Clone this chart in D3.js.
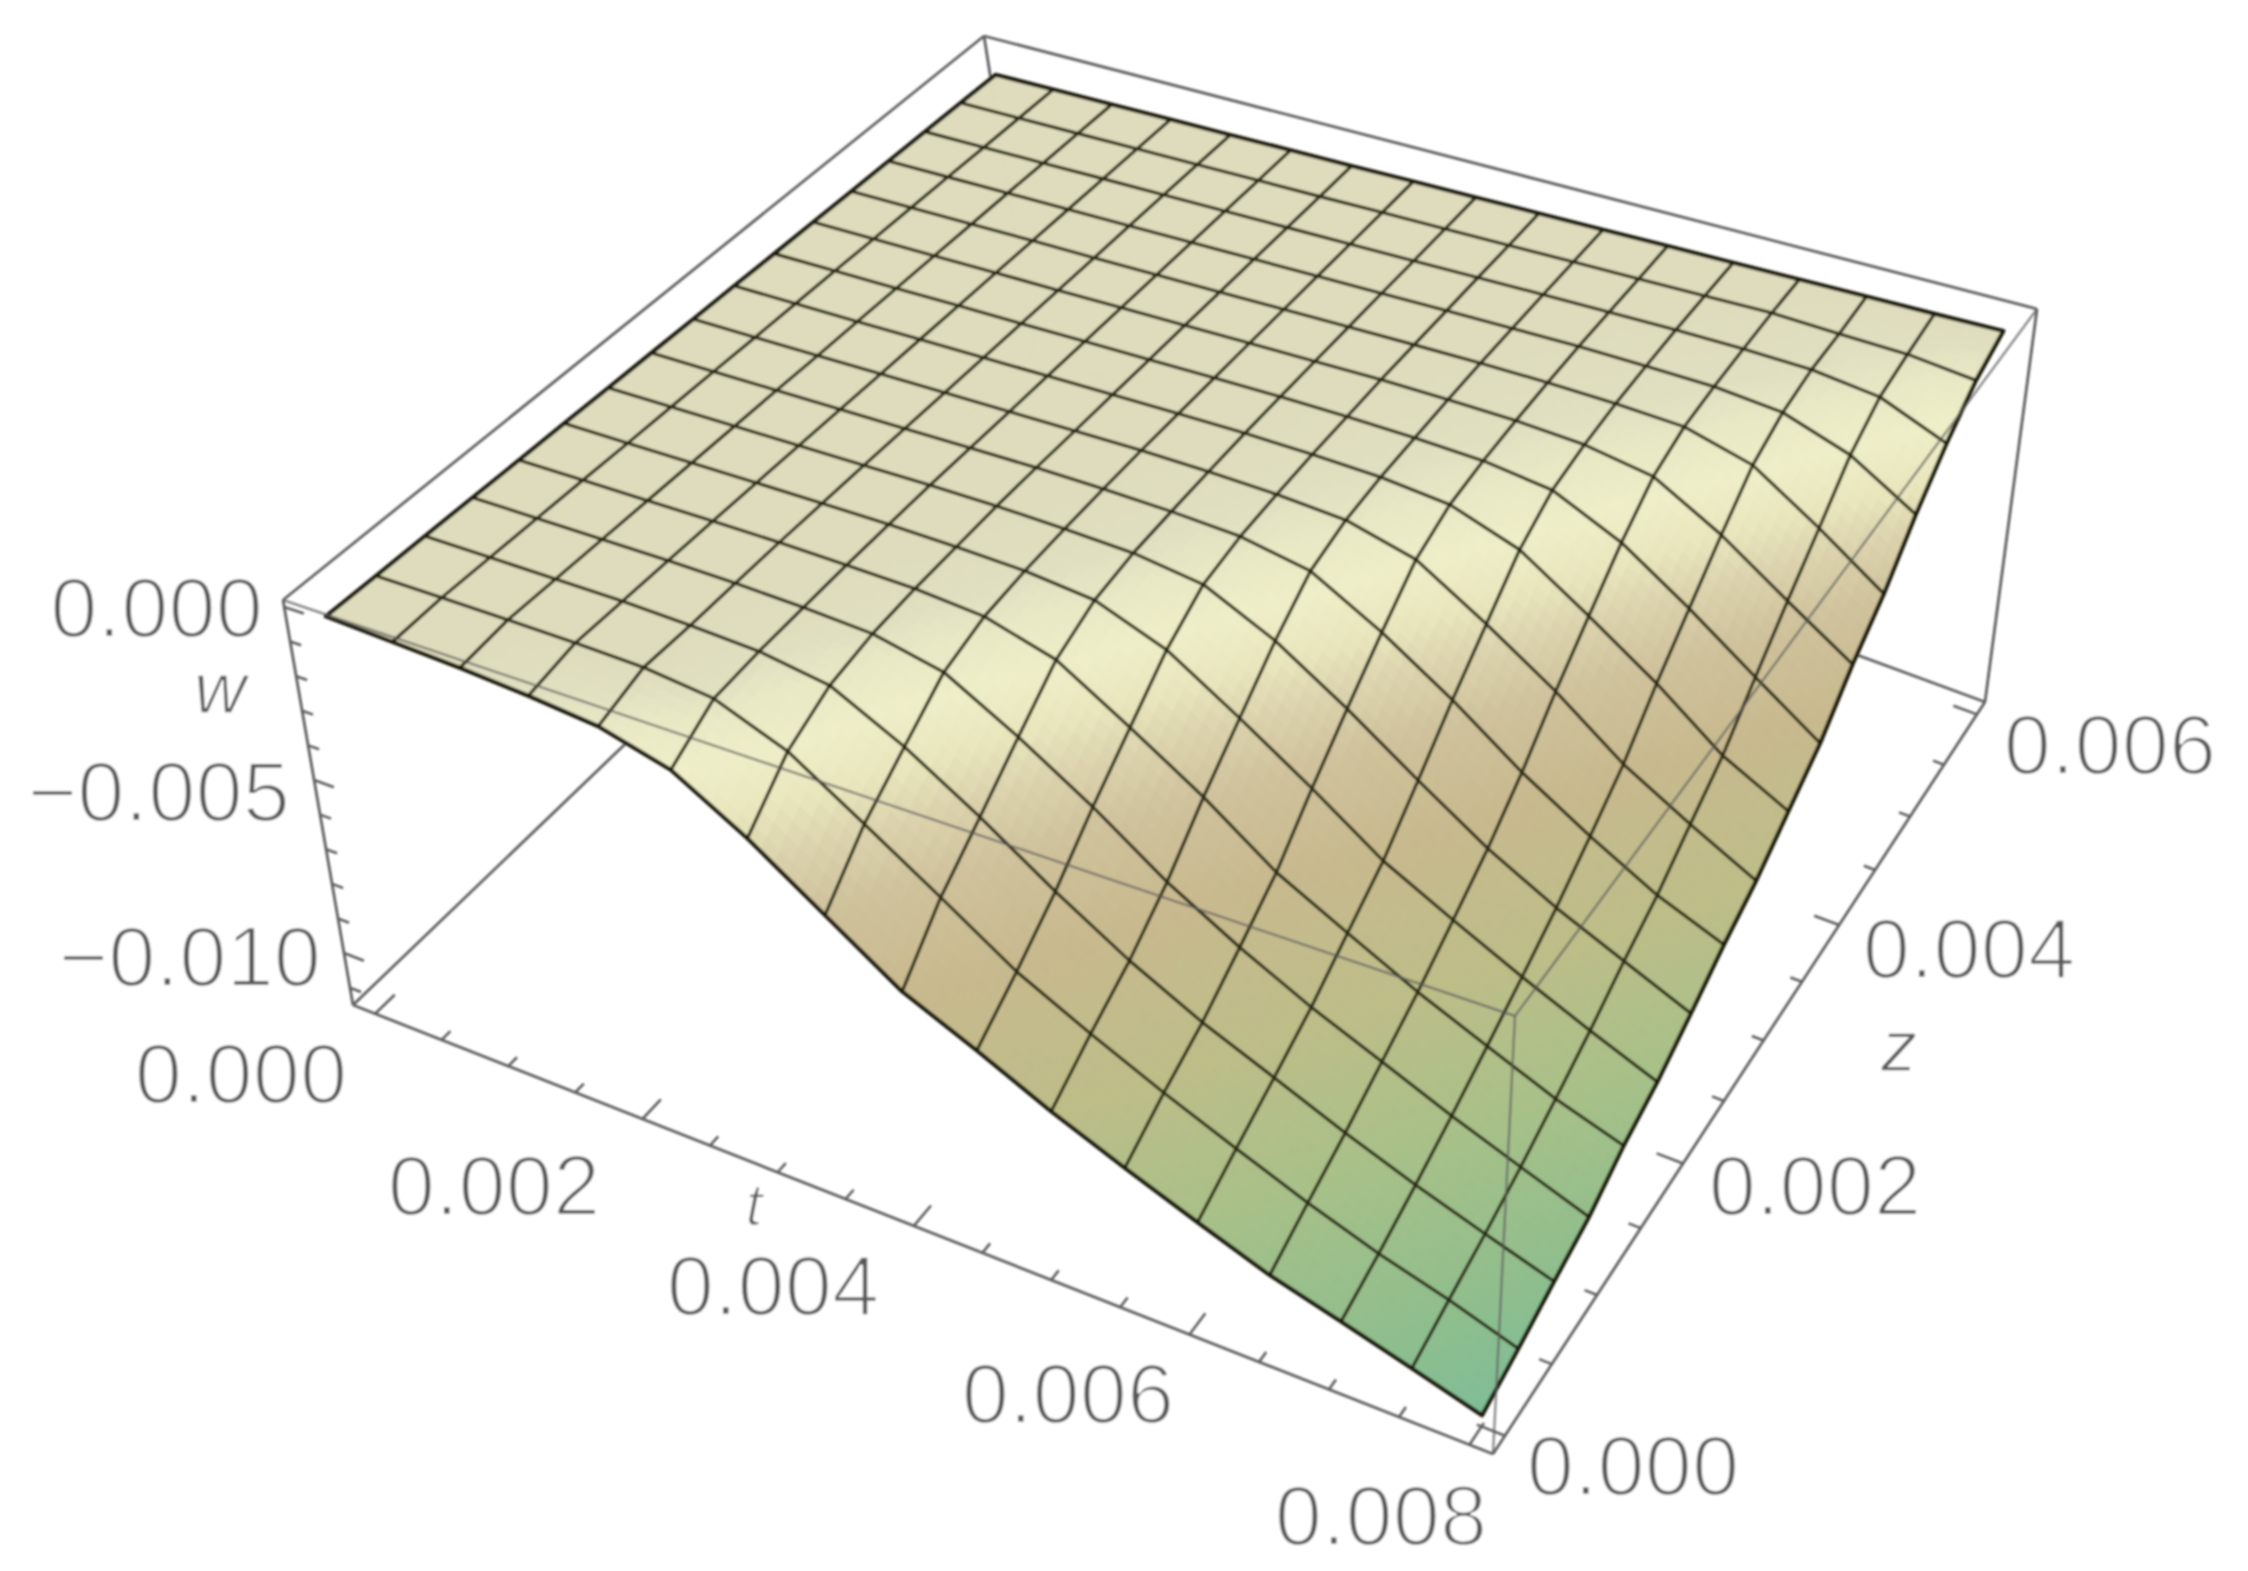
<!DOCTYPE html>
<html>
<head>
<meta charset="utf-8">
<script src="https://cdn.jsdelivr.net/npm/d3@7/dist/d3.min.js"></script>
<style>
html,body{margin:0;padding:0;background:#fff}
svg{display:block}
text{font-family:"Liberation Sans",sans-serif}
</style>
</head>
<body>
<svg id="chart" width="2248" height="1571"></svg>
<script>
// ---------- data ----------
const tNodes = [0,0.0005,0.001,0.0015,0.002,0.0025,0.003,0.0035,0.004,0.0045,0.005,0.0055,0.006,0.0065,0.007,0.0075,0.008];
const zNodes = [0,0.000375,0.00075,0.001125,0.0015,0.001875,0.00225,0.002625,0.003,0.003375,0.00375,0.004125,0.0045,0.004875,0.00525,0.005625,0.006];
// w in units of 1e-5, negative sign applied on use; one row per z node, one column per t node
const wDepth = [
[46,55,64,78,98,153,275,418,557,647,741,822,896,965,1016,1068,1120],
[48,48,48,50,55,78,160,295,430,565,665,755,835,910,975,1027,1085],
[49,49,49,50,56,66,98,205,335,474,596,696,777,857,927,988,1045],
[50,50,50,50,53,60,72,117,235,365,507,620,716,796,874,943,1008],
[52,51,51,50,51,55,61,78,138,265,395,539,640,735,815,890,948],
[53,53,52,51,51,52,56,64,86,165,295,428,565,663,753,833,905],
[55,54,53,52,51,50,51,57,66,95,194,324,462,588,687,768,845],
[56,55,54,53,52,51,50,53,59,71,110,224,354,495,610,709,780],
[58,57,56,54,53,52,51,50,54,61,76,130,254,384,527,632,725],
[59,58,57,55,54,52,51,50,50,54,62,83,154,284,415,557,650],
[61,59,58,56,55,53,52,50,49,51,56,65,92,185,315,450,575],
[62,61,59,57,56,54,52,50,49,47,50,55,68,103,214,345,465],
[64,62,60,58,57,55,53,51,49,47,46,48,54,65,120,245,375],
[65,63,61,59,57,55,53,51,49,47,45,44,47,52,72,140,255],
[67,65,63,60,58,56,54,52,50,47,45,43,42,44,50,75,155],
[68,66,64,61,59,57,55,52,50,48,45,43,41,38,46,52,74],
[70,67,65,62,60,57,55,52,50,47,45,42,40,37,35,33,30]
];
const tMajor = [0,0.002,0.004,0.006,0.008];
const tMinor = [0.0005,0.001,0.0015,0.0025,0.003,0.0035,0.0045,0.005,0.0055,0.0065,0.007,0.0075];
const zMajor = [0,0.002,0.004,0.006];
const zMinor = [0.0005,0.001,0.0015,0.0025,0.003,0.0035,0.0045,0.005,0.0055];
const wMajor = [0,-0.005,-0.01];
const wMinor = [-0.001,-0.002,-0.003,-0.004,-0.006,-0.007,-0.008,-0.009,-0.011];
const axisTitles = ["t","z","w"];

// ---------- view ----------
const topFace = [[283,600],[1515,1016],[2037,309],[984,36]];    // (t0,z0) (t1,z0) (t1,z1) (t0,z1)
const bottomFace = [[353,1005],[1493,1454],[1985,702],[1034,352]];
const tLabelAt = [[241,1073],[494,1185],[773,1285],[1068,1393],[1381,1515]];
const zLabelAt = [[1633,1465],[1815,1185],[1969,948],[2110,744]];
const wLabelRight = [[263,607],[290,791],[321,956]];
const titleAt = {t:[754,1204],z:[1899,1046],w:[220,688]};

const tScale = d3.scaleLinear().domain([0,0.008]).range([0.02,0.98]);
const zScale = d3.scaleLinear().domain([0,0.006]).range([0.02,0.98]);
const wScale = d3.scaleLinear().domain([0.0002,-0.0115]).range([0,1]);
const fmt = d3.format(".3f");

function homography(q){
  const [p0,p1,p2,p3]=q;
  const sx=p0[0]-p1[0]+p2[0]-p3[0], sy=p0[1]-p1[1]+p2[1]-p3[1];
  const dx1=p1[0]-p2[0], dy1=p1[1]-p2[1], dx2=p3[0]-p2[0], dy2=p3[1]-p2[1];
  const det=dx1*dy2-dx2*dy1;
  const g=(sx*dy2-dx2*sy)/det, h=(dx1*sy-sx*dy1)/det;
  return (u,v)=>{
    const d=1+g*u+h*v;
    return [(p0[0]+(p1[0]*(1+g)-p0[0])*u+(p3[0]*(1+h)-p0[0])*v)/d,
            (p0[1]+(p1[1]*(1+g)-p0[1])*u+(p3[1]*(1+h)-p0[1])*v)/d];
  };
}
const topH=homography(topFace), botH=homography(bottomFace);
function proj(u,v,s){
  const a=topH(u,v), b=botH(u,v);
  return [a[0]+(b[0]-a[0])*s, a[1]+(b[1]-a[1])*s];
}
const at=(t,z,w)=>proj(tScale(t),zScale(z),wScale(w));

const svg=d3.select("#chart");
const defs=svg.append("defs");
defs.append("filter").attr("id","soft").attr("filterUnits","userSpaceOnUse")
  .attr("x",0).attr("y",0).attr("width",2248).attr("height",1571)
  .append("feGaussianBlur").attr("stdDeviation",0.9);
const root=svg.append("g").attr("filter","url(#soft)");
const line=d3.line();

// ---------- box behind the surface ----------
const boxColor="#5e5e5e";
function edge(g,a,b,w,op){
  g.append("path").attr("d",line([proj(...a),proj(...b)])).attr("fill","none")
   .attr("stroke",boxColor).attr("stroke-width",w).attr("stroke-opacity",op);
}
const back=root.append("g");
[[[0,1,0],[1,1,0]],[[0,0,0],[0,1,0]],[[0,1,0],[0,1,1]],[[0,0,1],[0,1,1]],[[0,1,1],[1,1,1]],
 [[1,1,0],[1,1,1]],[[0,0,0],[0,0,1]],[[0,0,1],[1,0,1]],[[1,0,1],[1,1,1]]]
 .forEach(e=>edge(back,e[0],e[1],2.8,1));

// ---------- surface ----------
const wVal=(i,j)=>-wDepth[j][i]*1e-5;
const shade=d3.scaleLinear()
  .domain([0,15,40,100,180,250,350,500,700,850,1000,1085])
  .range(["#dedcbc","#e0dfc0","#e9e8c5","#eeeec8","#e9e6bd","#dcd4ae","#cfc29c","#c8b98e","#bdbd88","#a9c088","#90be8c","#80bd96"])
  .clamp(true);
const drop=(i,j)=>Math.max(0,wDepth[j][i]-wDepth[wDepth.length-1][i]);
const surf=root.append("g");
const nI=tNodes.length, nJ=zNodes.length, sub=6;
for(let j=nJ-2;j>=0;j--){
  for(let i=0;i<nI-1;i++){
    const pts=[[i,j],[i+1,j],[i+1,j+1],[i,j+1]].map(([a,b])=>at(tNodes[a],zNodes[b],wVal(a,b)));
    const ds=[drop(i,j),drop(i+1,j),drop(i+1,j+1),drop(i,j+1)];
    const blend=(q,x,y)=>q[0]*(1-x)*(1-y)+q[1]*x*(1-y)+q[2]*x*y+q[3]*(1-x)*y;
    const P=(x,y)=>[blend(pts.map(p=>p[0]),x,y),blend(pts.map(p=>p[1]),x,y)];
    for(let a=0;a<sub;a++)for(let b=0;b<sub;b++){
      const x0=a/sub,x1=(a+1)/sub,y0=b/sub,y1=(b+1)/sub;
      const c=shade(blend(ds,(x0+x1)/2,(y0+y1)/2));
      surf.append("path").attr("d",line([P(x0,y0),P(x1,y0),P(x1,y1),P(x0,y1)])+"Z")
        .attr("fill",c).attr("stroke",c).attr("stroke-width",0.8);
    }
  }
}
// mesh
const mesh=root.append("g").attr("fill","none").attr("stroke-linejoin","round");
const meshColor="#2f2f18";
for(let j=1;j<nJ-1;j++){
  mesh.append("path").attr("d",line(tNodes.map((t,i)=>at(t,zNodes[j],wVal(i,j)))))
    .attr("stroke",meshColor).attr("stroke-width",3.4);
}
for(let i=1;i<nI-1;i++){
  mesh.append("path").attr("d",line(zNodes.map((z,j)=>at(tNodes[i],z,wVal(i,j)))))
    .attr("stroke",meshColor).attr("stroke-width",3.4);
}
const outline=[
  ...tNodes.map((t,i)=>at(t,zNodes[0],wVal(i,0))),
  ...zNodes.map((z,j)=>at(tNodes[nI-1],z,wVal(nI-1,j))),
  ...tNodes.map((t,i)=>[t,i]).reverse().map(([t,i])=>at(t,zNodes[nJ-1],wVal(i,nJ-1))),
  ...zNodes.map((z,j)=>[z,j]).reverse().map(([z,j])=>at(tNodes[0],z,wVal(0,j)))
];
mesh.append("path").attr("d",line(outline)+"Z").attr("stroke","#1c1c0c").attr("stroke-width",4.2);

// ---------- box in front of the surface ----------
const front=root.append("g");
[[[0,0,0],[1,0,0]],[[1,0,0],[1,1,0]],[[1,0,0],[1,0,1]]].forEach(e=>edge(front,e[0],e[1],2.4,0.72));

// ---------- ticks ----------
const ticks=root.append("g").attr("fill","none").attr("stroke",boxColor).attr("stroke-width",2.6);
function tick(a,b){ticks.append("path").attr("d",line([a,b]));}
const tickT=(t,len)=>tick(proj(tScale(t),0,1),proj(tScale(t),len,1));
tMajor.forEach(t=>tickT(t,0.024)); tMinor.forEach(t=>tickT(t,0.011));
const tickZ=(z,len)=>tick(proj(1,zScale(z),1),proj(1-len,zScale(z),1));
zMajor.forEach(z=>tickZ(z,0.024)); zMinor.forEach(z=>tickZ(z,0.011));
const tickW=(w,len)=>tick(proj(0,0,wScale(w)),proj(len,0,wScale(w)));
wMajor.forEach(w=>tickW(w,0.018)); wMinor.forEach(w=>tickW(w,0.010));

// ---------- labels ----------
const labels=root.append("g").attr("fill","#585858").attr("stroke","#fff").attr("stroke-width",2.6)
  .attr("font-size",85).attr("paint-order","normal");
tMajor.forEach((t,k)=>labels.append("text").attr("x",tLabelAt[k][0]).attr("y",tLabelAt[k][1])
  .attr("text-anchor","middle").attr("dominant-baseline","central").text(fmt(t)));
zMajor.forEach((z,k)=>labels.append("text").attr("x",zLabelAt[k][0]).attr("y",zLabelAt[k][1])
  .attr("text-anchor","middle").attr("dominant-baseline","central").text(fmt(z)));
wMajor.forEach((w,k)=>labels.append("text").attr("x",wLabelRight[k][0]).attr("y",wLabelRight[k][1])
  .attr("text-anchor","end").attr("dominant-baseline","central").text(fmt(w)));
axisTitles.forEach(n=>labels.append("text").attr("x",titleAt[n][0]).attr("y",titleAt[n][1])
  .attr("text-anchor","middle").attr("dominant-baseline","central").attr("font-size",n==="t"?60:72)
  .attr("font-style","italic").attr("stroke-width",1.6).text(n));
</script>
</body>
</html>
